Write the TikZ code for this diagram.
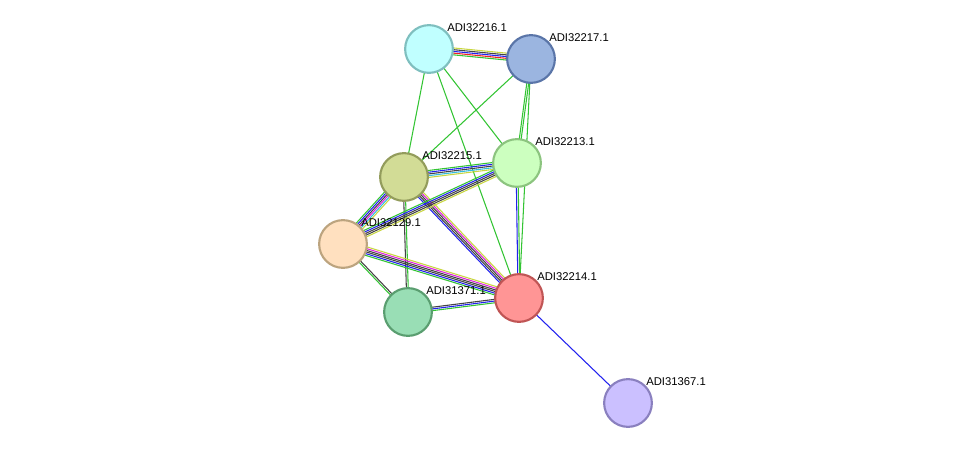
\documentclass[tikz,border=0pt]{standalone}
\usepackage{fontspec}
\setmainfont{Liberation Sans}
\usetikzlibrary{calc}
\definecolor{sgreen}{HTML}{33C433}
\definecolor{sblue}{HTML}{2222EE}
\definecolor{sred}{HTML}{EE2222}
\definecolor{syellow}{HTML}{C8D640}
\definecolor{scyan}{HTML}{33BBDD}
\definecolor{smag}{HTML}{DD22DD}
\definecolor{sblack}{HTML}{444444}
\tikzset{
  prot/.style={circle,minimum size=36,line width=1.6pt,inner sep=0pt},
  lab/.style={anchor=west,font=\fontsize{8.5}{9}\selectfont,inner sep=0pt},
  link/.style={line width=0.8pt}
}
% #1,#2 nodes, #3 list colour/offset
\newcommand\stredge[3]{%
  \foreach \c/\o in {#3}
    \draw[link,\c] ($(#1)!\o!90:(#2)$) -- ($(#2)!\o!-90:(#1)$);}
\begin{document}
\begin{tikzpicture}[x=0.0265cm,y=-0.0265cm]
    \useasboundingbox (0,0) rectangle (975,449);
    \coordinate (a16) at (429,49);
    \coordinate (a17) at (531,59);
    \coordinate (a15) at (404,177);
    \coordinate (a13) at (517,163);
    \coordinate (a29) at (343,244);
    \coordinate (a14) at (519,298);
    \coordinate (a71) at (408,312);
    \coordinate (a67) at (628,403);

    \stredge{a16}{a17}{sgreen/-2.6pt,sred/-1.3pt,sblue/0pt,sblack/1.3pt,syellow/2.6pt}
    \stredge{a16}{a15}{sgreen/0pt}
    \stredge{a16}{a13}{sgreen/0pt}
    \stredge{a16}{a14}{sgreen/0pt}
    \stredge{a17}{a13}{sgreen/-0.7pt,sgreen/0.7pt}
    \stredge{a17}{a15}{sgreen/0pt}
    \stredge{a17}{a14}{sgreen/0pt}
    \stredge{a15}{a13}{syellow/-2.6pt,scyan/-1.3pt,sblack/0pt,sblue/1.3pt,sgreen/2.6pt}
    \stredge{a15}{a29}{sgreen/-3.2pt,sblue/-1.9pt,sblack/-0.6pt,smag/0.6pt,scyan/1.9pt,syellow/3.2pt}
    \stredge{a15}{a14}{sblue/-2.6pt,sblack/-1.3pt,sblack/0pt,smag/1.3pt,syellow/2.6pt}
    \stredge{a15}{a71}{sblack/-0.7pt,sgreen/0.7pt}
    \stredge{a13}{a29}{sgreen/-2.6pt,sblue/-1.3pt,sblack/0pt,sblack/1.3pt,syellow/2.6pt}
    \stredge{a13}{a14}{sblue/-0.7pt,sgreen/0.7pt}
    \stredge{a29}{a14}{sgreen/-3.2pt,sblue/-1.9pt,sblack/-0.6pt,sblack/0.6pt,smag/1.9pt,syellow/3.2pt}
    \stredge{a29}{a71}{sgreen/-0.7pt,sblack/0.7pt}
    \stredge{a71}{a14}{sgreen/-1.3pt,sblue/0pt,sblack/1.3pt}
    \stredge{a14}{a67}{sblue/0pt}

    \node[prot,fill={rgb,255:red,192;green,255;blue,255},draw={rgb,255:red,127;green,191;blue,191}] (n16) at (a16) {};
    \node[prot,fill={rgb,255:red,155;green,181;blue,224},draw={rgb,255:red,90;green,117;blue,168}] (n17) at (a17) {};
    \node[prot,fill={rgb,255:red,210;green,220;blue,150},draw={rgb,255:red,147;green,156;blue,92}] (n15) at (a15) {};
    \node[prot,fill={rgb,255:red,204;green,255;blue,191},draw={rgb,255:red,140;green,196;blue,127}] (n13) at (a13) {};
    \node[prot,fill={rgb,255:red,255;green,224;blue,191},draw={rgb,255:red,188;green,164;blue,127}] (n29) at (a29) {};
    \node[prot,fill={rgb,255:red,255;green,149;blue,149},draw={rgb,255:red,192;green,85;blue,85}] (n14) at (a14) {};
    \node[prot,fill={rgb,255:red,153;green,222;blue,181},draw={rgb,255:red,90;green,158;blue,112}] (n71) at (a71) {};
    \node[prot,fill={rgb,255:red,203;green,192;blue,255},draw={rgb,255:red,138;green,128;blue,191}] (n67) at (a67) {};

    \foreach \n/\t in {16/ADI32216.1,17/ADI32217.1,15/ADI32215.1,13/ADI32213.1,29/ADI32129.1,14/ADI32214.1,71/ADI31371.1,67/ADI31367.1}
      \node[lab] (l\n) at ($(a\n)+(18,-21)$) {\t};
\end{tikzpicture}
\end{document}
